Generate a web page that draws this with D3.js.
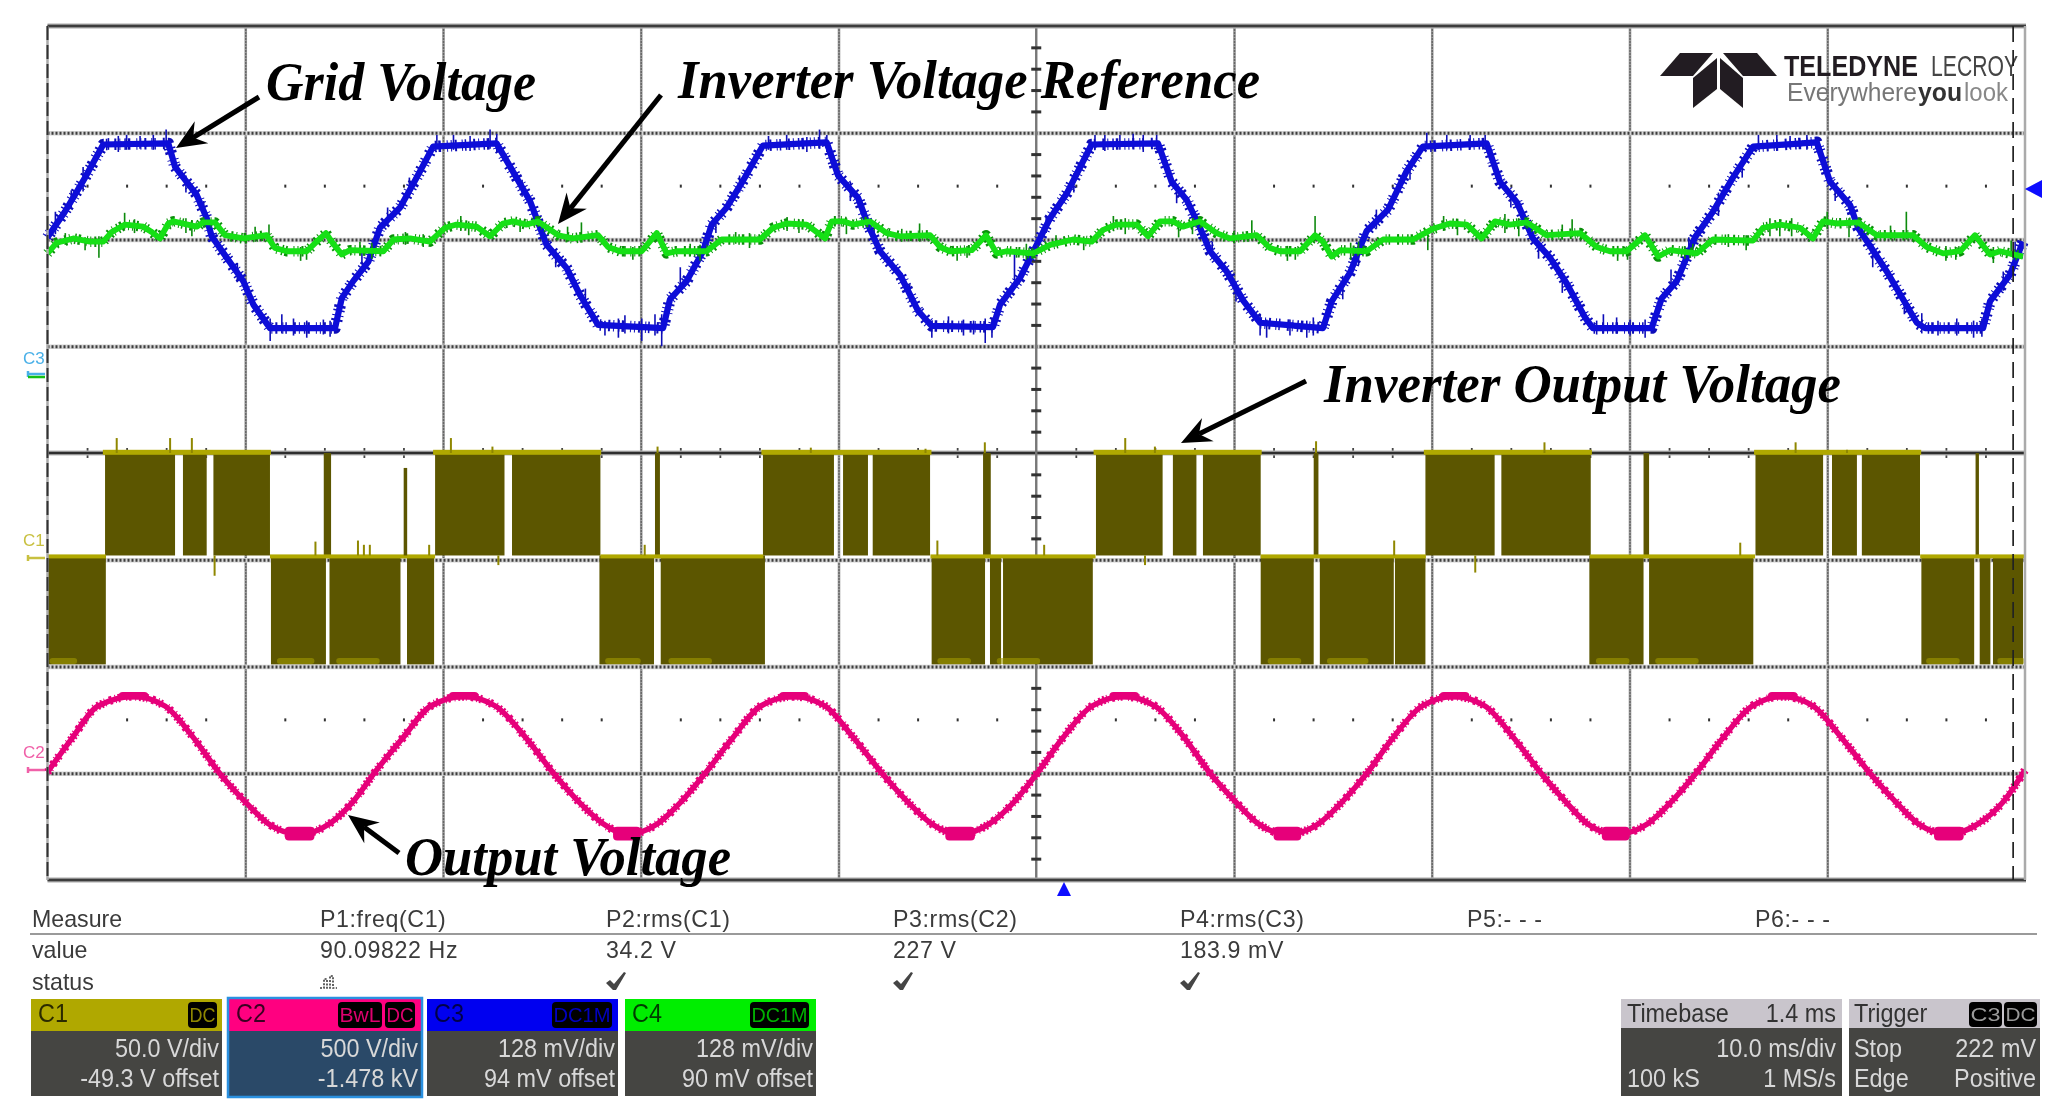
<!DOCTYPE html>
<html>
<head>
<meta charset="utf-8">
<title>Oscilloscope capture</title>
<script src="https://cdn.jsdelivr.net/npm/d3@7"></script>
<style>
  html, body { margin: 0; background: #fff; }
  svg { display: block; }
  text { font-family: "Liberation Sans", Arial, sans-serif; }
</style>
</head>
<body>
<div id="scope"></div>
<script>
'use strict';

// all traces: time in ms (10 ms/div), level in screen divisions from centre

// C3, grid voltage
let blueTime = [0, 0.88, 1.9, 2.82, 6.11, 6.45, 7.54, 8.05, 8.3, 9.06, 9.9, 10.41, 11.25, 14.54, 14.88, 15.46, 16.22, 16.81, 17.83, 18.67, 19.5, 22.71, 23.4, 24.4, 25.24, 26.26, 26.93, 27.84, 31.13, 31.48, 32.32, 33.15, 33.59, 34.35, 35.17, 36.18, 39.4, 39.98, 40.99, 41.49, 42.1, 43.11, 44.03, 44.71, 47.81, 48.17, 49.18, 50.02, 50.7, 51.54, 52.8, 56.16, 56.85, 57.61, 58.28, 58.79, 59.63, 60.46, 61.32, 64.5, 64.94, 65.87, 66.71, 67.79, 68.73, 69.55, 72.78, 73.45, 74.3, 75.12, 75.98, 76.82, 77.75, 78.15, 81.12, 81.63, 82.39, 83.31, 84.22, 85.23, 86.25, 89.47, 90.14, 91.16, 91.56, 93.01, 94.53, 94.95, 97.88, 98.23, 99.24, 99.9];
let blueLevel = [2.02, 2.26, 2.58, 2.89, 2.9, 2.68, 2.42, 2.2, 2.03, 1.83, 1.61, 1.39, 1.17, 1.17, 1.45, 1.61, 1.79, 2.11, 2.3, 2.58, 2.87, 2.9, 2.68, 2.36, 1.95, 1.73, 1.48, 1.2, 1.17, 1.44, 1.61, 1.89, 2.14, 2.3, 2.55, 2.88, 2.91, 2.6, 2.39, 2.14, 1.89, 1.67, 1.33, 1.19, 1.18, 1.39, 1.64, 1.95, 2.2, 2.43, 2.89, 2.9, 2.54, 2.37, 2.11, 1.89, 1.7, 1.43, 1.22, 1.17, 1.42, 1.69, 2.08, 2.28, 2.64, 2.87, 2.9, 2.54, 2.35, 2.01, 1.83, 1.59, 1.27, 1.17, 1.17, 1.45, 1.61, 2.02, 2.26, 2.58, 2.87, 2.91, 2.54, 2.32, 2.11, 1.7, 1.22, 1.17, 1.17, 1.42, 1.67, 1.98];
// [time, high, low]
let blueSpikes = [
    [0.4, 2.26, 2.05], [1.2, 2.46, 2.3], [1.8, 2.68, 2.45], [3.08, 2.95, 2.84], [3.58, 2.97, 2.82], [4.0, 2.98, 2.84], [4.68, 2.97, 2.85], [5.35, 2.98, 2.84], [6.0, 3.03, 2.86],
    [7.0, 2.6, 2.44], [7.9, 2.36, 2.22], [9.6, 1.78, 1.6], [11.26, 1.26, 1.05], [11.85, 1.3, 1.12], [12.44, 1.26, 1.1], [13.11, 1.24, 1.08], [13.95, 1.25, 1.11], [14.29, 1.24, 1.09], [15.9, 1.92, 1.78], [17.2, 2.3, 2.14],
    [18.3, 2.58, 2.4], [19.69, 2.98, 2.85], [20.53, 2.98, 2.84], [21.37, 2.97, 2.83], [22.38, 3.03, 2.85], [22.72, 2.99, 2.82],
    [24.0, 2.56, 2.4], [25.7, 1.9, 1.74], [27.2, 1.54, 1.36], [28.19, 1.24, 1.1], [28.87, 1.26, 1.08], [29.2, 1.29, 1.12], [30.05, 1.26, 1.05], [30.72, 1.3, 1.1], [31.06, 1.3, 1.0], [32.0, 1.74, 1.56], [33.8, 2.22, 2.06],
    [35.0, 2.6, 2.44], [36.46, 2.97, 2.84], [37.38, 2.98, 2.84], [38.4, 2.96, 2.82], [39.04, 3.03, 2.85], [39.41, 2.98, 2.82], [40.6, 2.54, 2.36], [41.8, 2.1, 1.96], [43.6, 1.58, 1.42],
    [44.72, 1.24, 1.08], [45.56, 1.28, 1.12], [46.32, 1.25, 1.1], [46.83, 1.24, 1.11], [47.42, 1.26, 1.03], [47.76, 1.27, 1.08], [48.9, 1.88, 1.62], [50.5, 2.22, 2.06],
    [51.9, 2.62, 2.44], [52.97, 2.98, 2.84], [53.47, 2.98, 2.83], [54.23, 2.98, 2.84], [54.9, 2.99, 2.85], [55.41, 2.98, 2.82], [56.09, 2.98, 2.84], [57.1, 2.52, 2.34], [58.9, 1.98, 1.82], [60.1, 1.6, 1.42],
    [61.32, 1.3, 1.1], [61.65, 1.25, 1.08], [62.83, 1.25, 1.1], [63.68, 1.24, 1.08], [64.01, 1.27, 1.1], [65.5, 1.66, 1.44], [66.3, 1.98, 1.76], [67.2, 2.28, 2.1],
    [68.9, 2.72, 2.56], [69.75, 3.0, 2.85], [70.76, 2.98, 2.84], [71.94, 2.98, 2.85], [72.7, 2.98, 2.84], [74.0, 2.46, 2.3], [75.4, 1.98, 1.82], [76.6, 1.68, 1.5],
    [78.34, 1.24, 1.11], [78.68, 1.3, 1.12], [79.35, 1.27, 1.12], [80.03, 1.25, 1.1], [80.79, 1.25, 1.08], [82.1, 1.72, 1.54], [83.0, 2.02, 1.86], [84.5, 2.44, 2.22],
    [85.7, 2.76, 2.58], [86.52, 2.98, 2.84], [87.45, 2.98, 2.83], [88.12, 2.97, 2.85], [88.97, 2.98, 2.84], [90.4, 2.5, 2.36], [92.3, 1.96, 1.74], [93.9, 1.46, 1.3],
    [94.78, 1.31, 1.12], [95.6, 1.24, 1.1], [96.55, 1.26, 1.1], [97.4, 1.24, 1.08], [97.82, 1.26, 1.09], [98.9, 1.7, 1.52], [99.5, 1.98, 1.76]
];

// C4, inverter voltage reference
let greenTime = [0, 0.47, 1.3, 2.15, 2.82, 3.25, 3.92, 4.84, 5.27, 5.69, 6.11, 6.36, 7.54, 7.88, 8.47, 8.98, 9.9, 11.08, 11.5, 12.1, 13.11, 13.61, 14.08, 14.37, 14.88, 15.3, 16.98, 17.49, 18.33, 19.34, 20.1, 20.69, 21.7, 22.38, 23.03, 23.54, 24.23, 24.8, 25.82, 26.57, 27.84, 28.34, 28.95, 30.05, 30.81, 31.31, 31.82, 33.33, 34.09, 36.03, 36.69, 37.38, 38.39, 39.32, 39.66, 40.23, 40.73, 41.59, 42.44, 43.11, 44.63, 45.13, 45.64, 46.74, 47.46, 48.0, 48.5, 49.84, 50.7, 51.86, 52.8, 53.38, 54.07, 55.08, 55.65, 56.26, 56.91, 57.42, 58.28, 59.12, 59.8, 61.15, 61.82, 62.33, 63.34, 64.1, 64.5, 64.94, 65.36, 66.71, 67.54, 69.05, 70.06, 70.92, 71.77, 72.52, 73.2, 73.96, 74.8, 75.81, 77.5, 78.34, 79.01, 79.86, 80.78, 81.46, 82.05, 83.4, 84.22, 86.25, 86.75, 87.61, 88.62, 89.28, 89.78, 90.47, 91.56, 92.5, 94.34, 95.03, 95.86, 96.72, 97.47, 98.23, 98.73, 99.9];
let greenLevel = [1.87, 1.97, 2.01, 1.98, 1.98, 2.07, 2.14, 2.12, 2.07, 2.01, 2.15, 2.17, 2.12, 2.16, 2.16, 2.04, 2.01, 2.04, 1.92, 1.89, 1.89, 1.98, 2.06, 1.98, 1.86, 1.9, 1.89, 2.0, 2.01, 1.98, 2.11, 2.14, 2.12, 2.03, 2.15, 2.17, 2.14, 2.17, 2.04, 2.01, 2.04, 1.93, 1.89, 1.89, 2.06, 1.87, 1.89, 1.89, 2.0, 2.0, 2.11, 2.15, 2.14, 2.01, 2.17, 2.17, 2.14, 2.17, 2.06, 2.03, 2.04, 1.93, 1.89, 1.9, 2.04, 1.87, 1.89, 1.87, 1.95, 2.0, 1.98, 2.09, 2.14, 2.14, 2.03, 2.17, 2.17, 2.12, 2.17, 2.06, 2.01, 2.04, 1.92, 1.89, 1.89, 2.04, 1.98, 1.84, 1.9, 1.89, 2.0, 2.0, 2.1, 2.15, 2.14, 2.01, 2.17, 2.14, 2.16, 2.04, 2.06, 1.93, 1.89, 1.89, 2.04, 1.84, 1.9, 1.87, 2.0, 1.99, 2.11, 2.14, 2.11, 2.01, 2.17, 2.15, 2.16, 2.04, 2.04, 1.93, 1.87, 1.89, 2.04, 1.86, 1.89, 1.84];
let greenSpikes = [
    [0.9, 2.06, 1.95], [1.9, 2.02, 1.9], [2.6, 2.03, 1.83], [3.9, 2.25, 2.1], [4.4, 2.19, 2.06], [7.0, 2.2, 2.06], [7.3, 2.18, 2.03], [10.5, 2.12, 1.98], [11.2, 2.14, 2.0], [12.8, 1.93, 1.8], [13.1, 1.93, 1.81], [15.8, 1.98, 1.85], [16.4, 1.97, 1.82], [18.1, 2.07, 1.95], [19.0, 2.05, 1.93],
    [20.9, 2.22, 2.08], [21.3, 2.17, 2.04], [23.9, 2.2, 2.07], [26.3, 2.12, 1.98], [27.0, 2.16, 1.99], [29.2, 1.94, 1.84], [29.6, 1.93, 1.81], [32.5, 1.96, 1.84], [33.0, 1.95, 1.8], [34.8, 2.07, 1.96], [35.5, 2.06, 1.92],
    [37.4, 2.21, 2.08], [38.0, 2.19, 2.06], [40.4, 2.2, 2.05], [43.2, 2.1, 1.98], [44.1, 2.15, 1.98], [46.0, 1.94, 1.8], [46.5, 1.94, 1.83], [49.0, 1.93, 1.83], [49.5, 1.96, 1.81], [51.0, 2.04, 1.95], [52.4, 2.03, 1.9],
    [53.9, 2.22, 2.08], [54.5, 2.2, 2.05], [57.2, 2.18, 2.02], [57.9, 2.2, 2.05], [60.0, 2.08, 1.97], [60.9, 2.18, 1.99], [62.7, 1.94, 1.8], [63.1, 1.93, 1.81], [64.1, 2.22, 2.02], [65.9, 1.97, 1.81], [66.3, 1.98, 1.85], [68.3, 2.05, 1.96], [69.8, 2.03, 1.9],
    [70.6, 2.22, 2.08], [71.3, 2.18, 2.04], [73.7, 2.24, 2.06], [74.4, 2.2, 2.03], [76.6, 2.14, 2.0], [77.1, 2.19, 2.02], [79.4, 1.94, 1.8], [79.9, 1.93, 1.81], [82.8, 1.94, 1.82], [83.2, 1.96, 1.84], [85.0, 2.05, 1.93], [85.9, 2.04, 1.9],
    [87.1, 2.2, 2.03], [87.6, 2.19, 2.03], [88.2, 2.2, 2.03], [90.0, 2.26, 2.1], [91.1, 2.2, 2.02], [93.2, 2.13, 2.0], [94.0, 2.26, 2.0], [96.0, 1.94, 1.8], [96.5, 1.93, 1.81], [98.4, 1.93, 1.78], [99.3, 1.99, 1.84]
];

// C1, inverter output voltage: [start, end] of each PWM burst
let oliveUpper = [[2.91, 6.45], [6.85, 8.05], [8.39, 11.25], [13.97, 14.34], [19.6, 23.11], [23.49, 27.96], [30.72, 30.97], [36.18, 39.77], [40.23, 41.49], [41.73, 44.63], [47.31, 47.7], [53.02, 56.39], [56.91, 58.1], [58.43, 61.35], [64.03, 64.27], [69.68, 73.18], [73.52, 78.04], [80.71, 80.99], [86.37, 89.79], [90.24, 91.5], [91.75, 94.69], [97.5, 97.67]];
let oliveLower = [[0.02, 2.95], [11.3, 14.08], [14.26, 17.85], [18.18, 19.55], [27.91, 30.67], [31.01, 36.28], [44.71, 47.41], [47.66, 48.22], [48.32, 52.86], [61.35, 64.03], [64.34, 68.08], [68.14, 69.68], [77.97, 80.71], [80.99, 86.26], [94.76, 97.43], [97.71, 98.25], [98.38, 99.9]];
let oliveTopRuns = [[2.8, 11.3], [19.5, 28.0], [36.1, 44.7], [52.9, 61.4], [69.6, 78.1], [86.3, 94.75]];
let oliveMidRuns = [[0, 2.95], [11.25, 19.6], [27.96, 36.2], [44.65, 53.0], [61.35, 69.7], [78.0, 86.35], [94.7, 100]];
let oliveBaseRuns = [[0.1, 1.5], [11.6, 13.5], [14.6, 16.8], [28.2, 30.0], [31.4, 33.6], [45.0, 46.7], [48.0, 50.2], [61.7, 63.4], [64.7, 66.8], [78.3, 80.0], [81.3, 83.5], [95.0, 96.7], [98.6, 100]];
// [time, high, low]
let oliveSpikes = [[3.5, 0.14, 0], [6.2, 0.14, 0], [7.3, 0.14, 0], [20.4, 0.14, 0], [22.5, 0.06, 0], [30.85, 0.06, 0], [38.6, 0.05, 0], [44.4, 0.04, 0], [47.4, 0.1, 0], [54.5, 0.14, 0], [56.0, 0.06, 0], [64.15, 0.11, 0], [75.7, 0.1, 0], [88.4, 0.1, 0], [91.0, 0.03, 0], [13.55, -0.83, -0.96], [15.7, -0.82, -0.96], [16.0, -0.86, -0.96], [16.3, -0.86, -0.96], [19.3, -0.86, -0.96], [30.2, -0.86, -0.96], [8.45, -0.96, -1.15], [22.8, -0.96, -1.05], [45, -0.82, -0.96], [50.4, -0.86, -0.96], [68.1, -0.82, -0.96], [55.5, -0.96, -1.05], [72.2, -0.96, -1.12], [85.6, -0.84, -0.96]];
// tall lone pulse with a partial height: [time, high, low]
let olivePulses = [[18.1, -0.14, -0.96]];

// C2, output voltage
let pinkTime = [0, 1.21, 2.55, 4.37, 5.94, 7.31, 8.66, 10.01, 11.15, 12.72, 14.28, 15.43, 16.56, 17.92, 19.38, 21.06, 22.65, 24.24, 25.59, 26.93, 28.08, 29.3, 30.87, 32.03, 33.3, 34.6, 36.07, 37.75, 39.32, 40.73, 42.2, 43.51, 44.68, 46.14, 47.66, 48.87, 50.04, 51.3, 52.82, 54.44, 56, 57.42, 58.79, 60.1, 61.21, 62.73, 64.3, 65.46, 66.72, 67.99, 69.51, 71.12, 72.69, 74.11, 75.53, 76.79, 77.85, 79.34, 80.94, 82.1, 83.36, 84.68, 86.2, 87.74, 89.28, 90.69, 92.16, 93.47, 94.58, 96.13, 97.67, 98.89, 100];
let pinkLevel = [-2.99, -2.68, -2.37, -2.28, -2.37, -2.65, -2.99, -3.27, -3.47, -3.57, -3.47, -3.27, -2.99, -2.68, -2.37, -2.28, -2.37, -2.68, -3.0, -3.28, -3.47, -3.57, -3.47, -3.27, -2.99, -2.68, -2.37, -2.28, -2.37, -2.66, -3.0, -3.27, -3.47, -3.57, -3.47, -3.27, -3.0, -2.68, -2.37, -2.28, -2.37, -2.65, -3.0, -3.27, -3.47, -3.57, -3.47, -3.27, -3.0, -2.68, -2.37, -2.28, -2.37, -2.66, -3.0, -3.27, -3.47, -3.57, -3.47, -3.27, -3.0, -2.68, -2.37, -2.28, -2.37, -2.66, -3.0, -3.27, -3.47, -3.57, -3.47, -3.27, -2.97];
// the trace smears wider at its crests: [start, end, high, low]
let pinkCrests = [[3.6, 5.1, -2.24, -2.31], [12, 13.5, -3.5, -3.63], [20.3, 21.8, -2.24, -2.31], [28.6, 30, -3.5, -3.63], [37, 38.5, -2.24, -2.31], [45.4, 46.9, -3.5, -3.63], [53.7, 55.2, -2.24, -2.31], [62, 63.4, -3.5, -3.63], [70.4, 71.9, -2.24, -2.31], [78.6, 80, -3.5, -3.63], [87, 88.5, -2.24, -2.31], [95.4, 96.9, -3.5, -3.63]];

let gridTimes = [10, 20, 30, 40, 60, 70, 80, 90];
let gridLevels = [3, 2, 1, -1, -2, -3];
let minorTimes = d3.range(0, 101, 2).filter(d => d % 10 !== 0);
let minorLevels = d3.range(-19, 20).map(d => d / 5).filter(d => d % 1 !== 0);

let measureHeads = ['P1:freq(C1)', 'P2:rms(C1)', 'P3:rms(C2)', 'P4:rms(C3)', 'P5:- - -', 'P6:- - -'];
let measureValues = ['90.09822 Hz', '34.2 V', '227 V', '183.9 mV', '', ''];

let channelNames = ['C1', 'C2', 'C3', 'C4'];
let channelScales = ['50.0 V/div', '500 V/div', '128 mV/div', '128 mV/div'];
let channelOffsets = ['-49.3 V offset', '-1.478 kV', '94 mV offset', '90 mV offset'];

// plot frame
let left = 47.5, right = 2025, top_ = 26, bottom = 880;

// uneven dash on a wide stroke gives the trace its noisy fringe
let fringe = '1 3 2 5 1 2 1.5 7 2 3 1 4 1.5 2 2.5 6 1 3';
let fringeWide = '2 2 1 4 3 3 1 2 2 6 1 2 2.5 4 1 3 2 2';

let x = d3.scaleLinear().domain([0, 100]).range([left, right]);
let y = d3.scaleLinear().domain([-4, 4]).range([bottom, top_]);

let svg = d3.select('#scope').append('svg').attr('width', 2062).attr('height', 1119);

let defs = svg.append('defs');
defs.append('filter').attr('id', 'soft').attr('filterUnits', 'userSpaceOnUse')
    .attr('x', 0).attr('y', 0).attr('width', 2062).attr('height', 1119)
    .append('feGaussianBlur').attr('stdDeviation', 0.65);

let root = svg.append('g').attr('filter', 'url(#soft)');

drawGrid(root.append('g'));
drawLogo(root.append('g'));
drawOlive(root.append('g'));
drawPink(root.append('g'));
drawBlue(root.append('g'));
drawGreen(root.append('g'));
drawFrame(root.append('g'));
drawMarkers(root.append('g'));
drawNotes(root.append('g'));
drawTable(root.append('g'));
drawBoxes(root.append('g'));

function plainAxis(sel, axis) {
    sel.call(axis);
    sel.select('.domain').remove();
    return sel.selectAll('.tick line');
}

function drawGrid(g) {
    plainAxis(g.append('g').attr('transform', 'translate(0,' + top_ + ')'),
        d3.axisBottom(x).tickValues(gridTimes).tickSize(bottom - top_).tickFormat(''))
        .attr('stroke', '#9a9a9a').attr('stroke-width', 2.6);
    plainAxis(g.append('g').attr('transform', 'translate(0,' + top_ + ')'),
        d3.axisBottom(x).tickValues(gridTimes).tickSize(bottom - top_).tickFormat(''))
        .attr('stroke', '#666').attr('stroke-width', 1.4).attr('stroke-dasharray', '2 1');

    plainAxis(g.append('g').attr('transform', 'translate(' + left + ',0)'),
        d3.axisRight(y).tickValues(gridLevels).tickSize(right - left).tickFormat(''))
        .attr('stroke', '#d4d4d4').attr('stroke-width', 4.5);
    plainAxis(g.append('g').attr('transform', 'translate(' + left + ',0)'),
        d3.axisRight(y).tickValues(gridLevels).tickSize(right - left).tickFormat(''))
        .attr('stroke', '#3c3c3c').attr('stroke-width', 3).attr('stroke-dasharray', '2 2');

    // small dots at half divisions
    [2.5, -2.5].forEach(function (level) {
        plainAxis(g.append('g').attr('transform', 'translate(0,' + (y(level) - 1.5) + ')'),
            d3.axisBottom(x).tickValues(minorTimes).tickSize(3).tickFormat(''))
            .attr('stroke', '#333').attr('stroke-width', 2);
    });

    // centre cross
    plainAxis(g.append('g').attr('transform', 'translate(0,' + y(0) + ')'),
        d3.axisBottom(x).tickValues(minorTimes).tickSize(10).tickFormat(''))
        .attr('y1', -5).attr('y2', 5)
        .attr('stroke', '#444').attr('stroke-width', 1.8);
    g.append('line').attr('x1', left).attr('x2', right).attr('y1', y(0)).attr('y2', y(0))
        .attr('stroke', '#b8b8b8').attr('stroke-width', 5);
    g.append('line').attr('x1', left).attr('x2', right).attr('y1', y(0)).attr('y2', y(0))
        .attr('stroke', '#2e2e2e').attr('stroke-width', 2.4);
    g.append('line').attr('x1', x(50)).attr('x2', x(50)).attr('y1', top_).attr('y2', bottom)
        .attr('stroke', '#777').attr('stroke-width', 2.4);
    plainAxis(g.append('g').attr('transform', 'translate(' + x(50) + ',0)'),
        d3.axisRight(y).tickValues(minorLevels).tickSize(10).tickFormat(''))
        .attr('x1', -5).attr('x2', 5)
        .attr('stroke', '#333').attr('stroke-width', 3);
}

function drawLogo(g) {
    let ink = '#231f20';
    [
        [[1680, 53], [1713, 53], [1693, 76], [1660, 76]],
        [[1723, 53], [1757, 53], [1777, 76], [1743, 76]],
        [[1717, 58], [1717, 89], [1693, 108], [1693, 78]],
        [[1720, 58], [1720, 89], [1743, 108], [1743, 78]]
    ].forEach(function (p) {
        g.append('polygon').attr('points', p.join(' ')).attr('fill', ink);
    });
    logoText(g, 'TELEDYNE', 1784, 76, 30, 134, ink, 'bold');
    logoText(g, 'LECROY', 1931, 76, 30, 87, '#444', 'normal');
    logoText(g, 'Everywhere', 1787, 101, 25, 130, '#777', 'normal');
    logoText(g, 'you', 1918, 101, 25, 44, '#333', 'bold');
    logoText(g, 'look', 1964, 101, 25, 44, '#888', 'normal');
}

function logoText(g, s, px, py, size, len, fill, weight) {
    g.append('text').attr('x', px).attr('y', py).text(s)
        .attr('font-size', size).attr('font-weight', weight).attr('fill', fill)
        .attr('textLength', len).attr('lengthAdjust', 'spacingAndGlyphs');
}

function drawOlive(g) {
    let fill = '#5c5600', tint = '#b0a800';
    g.selectAll('rect.upper').data(oliveUpper).enter().append('rect')
        .attr('x', d => x(d[0])).attr('width', d => x(d[1]) - x(d[0]))
        .attr('y', y(0)).attr('height', y(-0.96) - y(0)).attr('fill', fill);
    g.selectAll('rect.lower').data(oliveLower).enter().append('rect')
        .attr('x', d => x(d[0])).attr('width', d => x(d[1]) - x(d[0]))
        .attr('y', y(-0.96)).attr('height', y(-1.98) - y(-0.96)).attr('fill', fill);
    g.selectAll('rect.topRun').data(oliveTopRuns).enter().append('rect')
        .attr('x', d => x(d[0])).attr('width', d => x(d[1]) - x(d[0]))
        .attr('y', y(0.03)).attr('height', 5).attr('fill', tint);
    g.selectAll('rect.midRun').data(oliveMidRuns).enter().append('rect')
        .attr('x', d => x(d[0])).attr('width', d => x(d[1]) - x(d[0]))
        .attr('y', y(-0.95)).attr('height', 4).attr('fill', tint);
    g.selectAll('rect.baseRun').data(oliveBaseRuns).enter().append('rect')
        .attr('x', d => x(d[0])).attr('width', d => x(d[1]) - x(d[0]))
        .attr('y', y(-1.92)).attr('height', 6).attr('rx', 3).attr('fill', '#a09a00').attr('opacity', 0.6);
    g.selectAll('line.spike').data(oliveSpikes).enter().append('line')
        .attr('x1', d => x(d[0])).attr('x2', d => x(d[0]))
        .attr('y1', d => y(d[1])).attr('y2', d => y(d[2]))
        .attr('stroke', '#8f8700').attr('stroke-width', 2);
    g.selectAll('line.pulse').data(olivePulses).enter().append('line')
        .attr('x1', d => x(d[0])).attr('x2', d => x(d[0]))
        .attr('y1', d => y(d[1])).attr('y2', d => y(d[2]))
        .attr('stroke', fill).attr('stroke-width', 3.5);
}

function spikes(g, data, colour, width) {
    g.selectAll('line.s').data(data).enter().append('line')
        .attr('x1', d => x(d[0])).attr('x2', d => x(d[0]))
        .attr('y1', d => y(d[1])).attr('y2', d => y(d[2]))
        .attr('stroke', colour).attr('stroke-width', width);
}

function trace(g, times, levels, colour, width, curve, dash) {
    let line = d3.line().x(d => x(d)).y((d, i) => y(levels[i])).curve(curve || d3.curveLinear);
    let p = g.append('path').attr('d', line(times))
        .attr('fill', 'none').attr('stroke', colour).attr('stroke-width', width)
        .attr('stroke-linejoin', 'round');
    if (dash) p.attr('stroke-dasharray', dash);
}

function drawPink(g) {
    let colour = '#e6007a';
    trace(g, pinkTime, pinkLevel, colour, 8.5, d3.curveMonotoneX, fringeWide);
    trace(g, pinkTime, pinkLevel, colour, 5.5, d3.curveMonotoneX);
    g.selectAll('rect').data(pinkCrests).enter().append('rect')
        .attr('x', d => x(d[0])).attr('width', d => x(d[1]) - x(d[0]))
        .attr('y', d => y(d[2])).attr('height', d => y(d[3]) - y(d[2]))
        .attr('rx', 4)
        .attr('fill', colour);
}

function drawBlue(g) {
    spikes(g, blueSpikes, '#1010b8', 1.6);
    trace(g, blueTime, blueLevel, '#0a0ab8', 11.5, d3.curveLinear, fringe);
    trace(g, blueTime, blueLevel, '#0808d8', 6.2);
}

function drawGreen(g) {
    spikes(g, greenSpikes, '#0a8a0a', 1.6);
    trace(g, greenTime, greenLevel, '#0a900a', 10.5, d3.curveLinear, fringe);
    trace(g, greenTime, greenLevel, '#12e012', 5.8);
}

function drawFrame(g) {
    [[top_], [bottom]].forEach(function (d) {
        g.append('line').attr('x1', left).attr('x2', right + 1).attr('y1', d[0]).attr('y2', d[0])
            .attr('stroke', '#aaa').attr('stroke-width', 5);
        g.append('line').attr('x1', left).attr('x2', right + 1).attr('y1', d[0]).attr('y2', d[0])
            .attr('stroke', '#3c3c3c').attr('stroke-width', 2.6);
    });
    g.append('line').attr('x1', left).attr('x2', left).attr('y1', top_).attr('y2', bottom)
        .attr('stroke', '#aaa').attr('stroke-width', 2.5);
    g.append('line').attr('x1', left).attr('x2', left).attr('y1', top_).attr('y2', bottom)
        .attr('stroke', '#333').attr('stroke-width', 2).attr('stroke-dasharray', '14 5');
    g.append('line').attr('x1', right).attr('x2', right).attr('y1', top_).attr('y2', bottom)
        .attr('stroke', '#aaa').attr('stroke-width', 2.5);
    g.append('line').attr('x1', x(99.4)).attr('x2', x(99.4)).attr('y1', top_).attr('y2', bottom)
        .attr('stroke', '#222').attr('stroke-width', 1.7).attr('stroke-dasharray', '16 8');
}

function drawMarkers(g) {
    g.append('polygon').attr('points', '2025,189 2042,180 2042,198').attr('fill', '#0a0aff');
    g.append('polygon').attr('points', '1064,882 1057,896 1071,896').attr('fill', '#0a0aff');

    [['C3', 364, '#4ab0e8', 374], ['C1', 546, '#c8c040', 558], ['C2', 758, '#f060a8', 770]].forEach(function (d) {
        g.append('text').attr('x', 23).attr('y', d[1]).text(d[0])
            .attr('font-size', 17).attr('fill', d[2]);
        g.append('line').attr('x1', 28).attr('x2', 45).attr('y1', d[3]).attr('y2', d[3])
            .attr('stroke', d[2]).attr('stroke-width', 2.5);
        g.append('line').attr('x1', 28).attr('x2', 28).attr('y1', d[3] - 3).attr('y2', d[3] + 3)
            .attr('stroke', d[2]).attr('stroke-width', 2.5);
    });
    g.append('line').attr('x1', 28).attr('x2', 45).attr('y1', 377).attr('y2', 377)
        .attr('stroke', '#12c012').attr('stroke-width', 2.5);
}

function drawNotes(g) {
    let notes = [
        ['Grid Voltage', 266, 100, 270],
        ['Inverter Voltage Reference', 678, 98, 582],
        ['Inverter Output Voltage', 1324, 402, 517],
        ['Output Voltage', 405, 875, 326]
    ];
    notes.forEach(function (d) {
        g.append('text').attr('x', d[1]).attr('y', d[2]).text(d[0])
            .style('font-family', '"Liberation Serif", "Times New Roman", serif')
            .style('font-weight', 'bold').style('font-style', 'italic')
            .attr('font-size', 54).attr('fill', '#000')
            .attr('textLength', d[3]).attr('lengthAdjust', 'spacingAndGlyphs');
    });
    let arrows = [
        [259, 97, 176, 148],
        [661, 95, 558, 224],
        [1306, 381, 1181, 443],
        [399, 853, 348, 815]
    ];
    arrows.forEach(function (a) {
        let ang = Math.atan2(a[3] - a[1], a[2] - a[0]);
        let back = 30, wing = 13, notch = 20;
        let pt = function (along, across) {
            return [
                a[2] - along * Math.cos(ang) - across * Math.sin(ang),
                a[3] - along * Math.sin(ang) + across * Math.cos(ang)
            ];
        };
        g.append('line').attr('x1', a[0]).attr('y1', a[1])
            .attr('x2', pt(notch, 0)[0]).attr('y2', pt(notch, 0)[1])
            .attr('stroke', '#000').attr('stroke-width', 5);
        g.append('polygon').attr('fill', '#000')
            .attr('points', [pt(0, 0), pt(back, wing), pt(notch, 0), pt(back, -wing)].join(' '));
    });
}

function drawTable(g) {
    let ink = '#3a3a3a';
    let headX = [320, 606, 893, 1180, 1467, 1755];
    let label = function (s, px, py, spacing) {
        g.append('text').attr('x', px).attr('y', py).text(s).attr('font-size', 23.2).attr('fill', ink)
            .attr('letter-spacing', spacing || 0);
    };
    label('Measure', 32, 927);
    label('value', 32, 958);
    label('status', 32, 990);
    measureHeads.forEach((s, i) => label(s, headX[i], 927, 0.6));
    measureValues.forEach((s, i) => label(s, headX[i], 958, 0.6));
    g.append('line').attr('x1', 30).attr('x2', 2037).attr('y1', 934).attr('y2', 934)
        .attr('stroke', '#9a9a9a').attr('stroke-width', 2);
    // status icons
    g.append('path').attr('d', 'M320 988 h4 v-9 h3 v9 h3 v-12 h3 v12 h4')
        .attr('fill', 'none').attr('stroke', ink).attr('stroke-width', 1.6).attr('stroke-dasharray', '2 1.4');
    headX.slice(1, 4).forEach(function (px) {
        g.append('path')
            .attr('d', 'M' + px + ' 983 l4 -3 l4 4 l10 -12 l2 1 l-10 17 h-3 z')
            .attr('fill', '#444');
    });
}

function badge(g, s, x0, x1, y0, y1, colour, size) {
    g.append('rect').attr('x', x0).attr('y', y0).attr('width', x1 - x0).attr('height', y1 - y0)
        .attr('rx', 4).attr('fill', '#000');
    g.append('text').attr('x', (x0 + x1) / 2).attr('y', y1 - 6).text(s)
        .attr('text-anchor', 'middle').attr('font-size', size).attr('fill', colour)
        .attr('textLength', x1 - x0 - 3).attr('lengthAdjust', 'spacingAndGlyphs');
}

// panel text: tall and slightly narrow, as on the scope screen
function panelText(g, s, px, py, anchor, fill, size) {
    let t = g.append('text').attr('x', px).attr('y', py).text(s)
        .attr('text-anchor', anchor).attr('font-size', size || 26).attr('fill', fill);
    t.attr('textLength', t.node().getComputedTextLength() * 0.9).attr('lengthAdjust', 'spacingAndGlyphs');
}

function drawBoxes(g) {
    let boxX = [[31, 222], [229, 421], [427, 618], [625, 816]];
    let heads = ['#b0a800', '#ff0080', '#0000f0', '#00ee00'];
    let nameInk = ['#2c2a00', '#3a0020', '#00004a', '#003a00'];
    let badgeInk = ['#8f8700', '#e00070', '#0000c0', '#00b000'];
    let bodies = ['#444443', '#2a4a68', '#444443', '#444443'];

    channelNames.forEach(function (name, i) {
        let b = boxX[i];
        g.append('rect').attr('x', b[0]).attr('y', 999).attr('width', b[1] - b[0]).attr('height', 32).attr('fill', heads[i]);
        g.append('rect').attr('x', b[0]).attr('y', 1031).attr('width', b[1] - b[0]).attr('height', 65).attr('fill', bodies[i]);
        panelText(g, name, b[0] + 7, 1022, 'start', nameInk[i]);
        panelText(g, channelScales[i], b[1] - 3, 1057, 'end', '#d8d8d8');
        panelText(g, channelOffsets[i], b[1] - 3, 1087, 'end', '#d8d8d8');
    });
    g.append('rect').attr('x', 228).attr('y', 998).attr('width', 194).attr('height', 99)
        .attr('fill', 'none').attr('stroke', '#2a90e0').attr('stroke-width', 2.5);

    badge(g, 'DC', 188, 217, 1002, 1028, badgeInk[0], 21);
    badge(g, 'BwL', 338, 382, 1002, 1028, badgeInk[1], 21);
    badge(g, 'DC', 385, 415, 1002, 1028, badgeInk[1], 21);
    badge(g, 'DC1M', 552, 612, 1002, 1028, badgeInk[2], 21);
    badge(g, 'DC1M', 750, 809, 1002, 1028, badgeInk[3], 21);

    // timebase and trigger
    [[1621, 1842], [1849, 2040]].forEach(function (b) {
        g.append('rect').attr('x', b[0]).attr('y', 999).attr('width', b[1] - b[0]).attr('height', 29).attr('fill', '#c9c5cc');
        g.append('rect').attr('x', b[0]).attr('y', 1028).attr('width', b[1] - b[0]).attr('height', 68).attr('fill', '#444443');
    });
    panelText(g, 'Timebase', 1627, 1022, 'start', '#333');
    panelText(g, '1.4 ms', 1836, 1022, 'end', '#333');
    panelText(g, '10.0 ms/div', 1836, 1057, 'end', '#d8d8d8');
    panelText(g, '100 kS', 1627, 1087, 'start', '#d8d8d8');
    panelText(g, '1 MS/s', 1836, 1087, 'end', '#d8d8d8');
    panelText(g, 'Trigger', 1854, 1022, 'start', '#333');
    panelText(g, 'Stop', 1854, 1057, 'start', '#d8d8d8');
    panelText(g, '222 mV', 2036, 1057, 'end', '#d8d8d8');
    panelText(g, 'Edge', 1854, 1087, 'start', '#d8d8d8');
    panelText(g, 'Positive', 2036, 1087, 'end', '#d8d8d8');
    badge(g, 'C3', 1969, 2002, 1002, 1027, '#9a9a9a', 19);
    badge(g, 'DC', 2004, 2037, 1002, 1027, '#9a9a9a', 19);
}
</script>
</body>
</html>
